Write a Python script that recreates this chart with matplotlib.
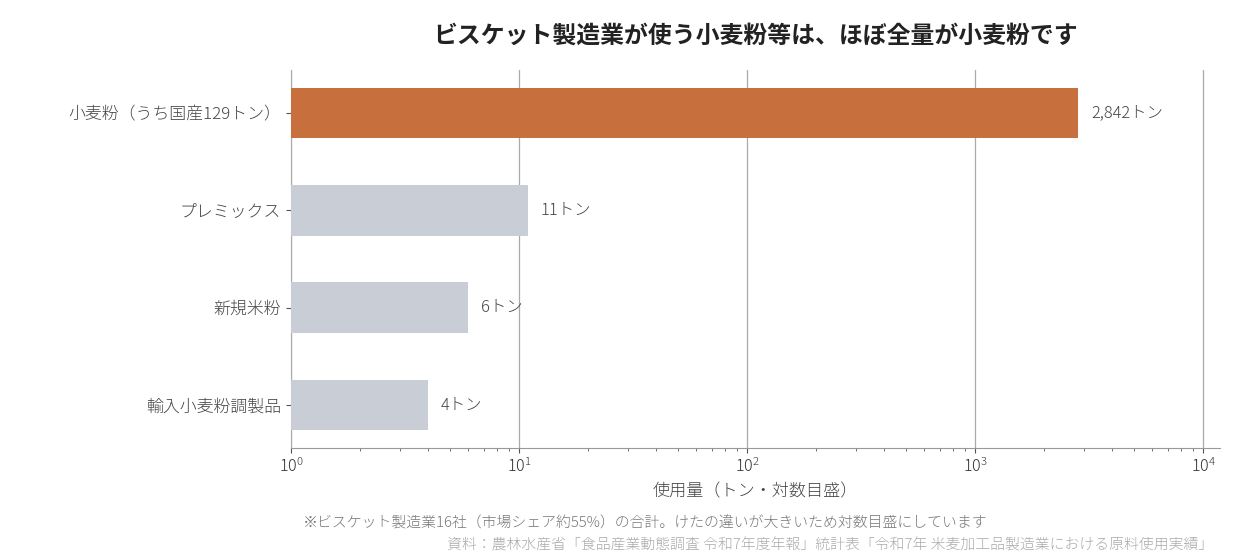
import matplotlib
matplotlib.use("Agg")
import matplotlib.pyplot as plt

plt.rcParams['font.family'] = ['Noto Sans CJK JP', 'DejaVu Sans']

categories = ['小麦粉（うち国産129トン）', 'プレミックス', '新規米粉', '輸入小麦粉調製品']
values = [2842, 11, 6, 4]
value_labels = ['2,842トン', '11トン', '6トン', '4トン']
bar_colors = ['#C8703D', '#C8CDD6', '#C8CDD6', '#C8CDD6']

title = 'ビスケット製造業が使う小麦粉等は、ほぼ全量が小麦粉です'
xlabel = '使用量（トン・対数目盛）'
note = '※ビスケット製造業16社（市場シェア約55%）の合計。けたの違いが大きいため対数目盛にしています'
source = '資料：農林水産省「食品産業動態調査 令和7年度年報」統計表「令和7年 米麦加工品製造業における原料使用実績」'

fig = plt.figure(figsize=(12.4, 5.6), dpi=100)
ax = fig.add_axes([291 / 1240, 1 - 448 / 560, (1220 - 291) / 1240, (448 - 70) / 560])

ypos = list(range(len(categories)))
ax.barh(ypos, values, height=0.52, color=bar_colors, zorder=3)
ax.set_xscale('log')
ax.set_xlim(1, 10 ** (4 + 17 / 228))
ax.set_ylim(len(categories) - 0.56, -0.44)
ax.set_yticks(ypos)
ax.set_yticklabels(categories, fontsize=12.2, color='#444444', fontweight='light')

for y, v, lab in zip(ypos, values, value_labels):
    ax.annotate(lab, (v, y), xytext=(9, 0), textcoords='offset points',
                va='center', ha='left', fontsize=11.8, color='#444444', fontweight='light')

ax.grid(axis='x', which='major', color='#AAAAAA', linewidth=0.9, zorder=0)
for s in ['top', 'right']:
    ax.spines[s].set_visible(False)
ax.spines['left'].set_color('#AAAAAA')
ax.spines['bottom'].set_color('#999999')
ax.tick_params(axis='x', labelsize=11.5, colors='#333333')
ax.tick_params(axis='x', which='both', color='#555555')
ax.tick_params(axis='y', color='#555555')
for t in ax.get_xticklabels():
    t.set_fontweight('light')

ax.set_xlabel(xlabel, fontsize=12.3, color='#444444', labelpad=5, fontweight='light')
ax.set_title(title, fontsize=17.2, fontweight='bold', color='#222222', pad=20)

fig.text(303 / 1240, 1 - 523 / 560, note, fontsize=10.7, color='#777777',
         va='center', ha='left', fontweight='light')
fig.text(1213 / 1240, 1 - 545 / 560, source, fontsize=10.7, color='#AAAAAA',
         va='center', ha='right', fontweight='light')

fig.savefig('out.png', dpi=100)
